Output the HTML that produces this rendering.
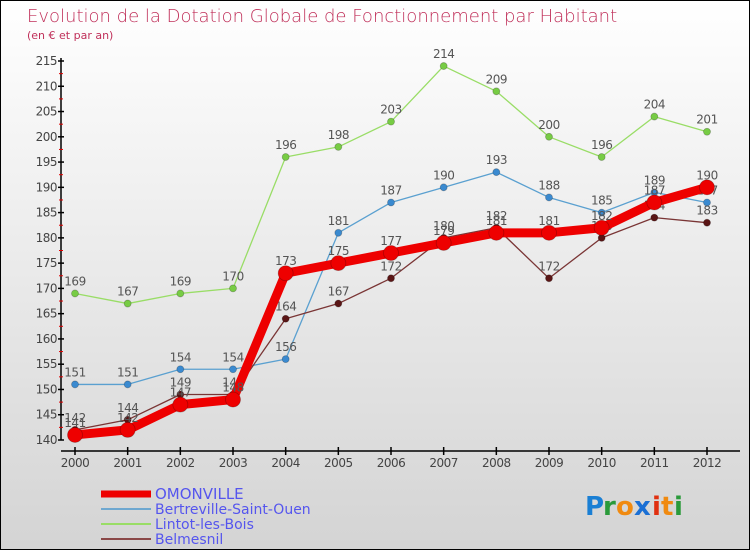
<!DOCTYPE html>
<html><head><meta charset="utf-8"><style>
html,body{margin:0;padding:0}
body{width:750px;height:550px;overflow:hidden;font-family:"DejaVu Sans","Liberation Sans",sans-serif}
#wrap{position:absolute;left:0;top:0;width:748px;height:548px;border:1px solid #000;background:linear-gradient(#ffffff,#d4d4d4)}
</style></head><body>
<div id="wrap">
<svg id="chart" width="750" height="550" style="position:absolute;left:-1px;top:-1px">
<text x="27" y="22" font-size="18" fill="#c0305a" font-family="DejaVu Sans, sans-serif" font-weight="200">Evolution de la Dotation Globale de Fonctionnement par Habitant</text>
<text x="27" y="39" font-size="11" fill="#c0305a">(en € et par an)</text>
<g id="axes"></g>
<g id="series"></g>
<g id="legend"></g>
<g font-size="26" font-family="DejaVu Sans, sans-serif" font-weight="bold">
<text x="585" y="515" fill="#1a7fd4">P</text><text x="603" y="515" fill="#2a9a3a">r</text><text x="616" y="515" fill="#f08a10">o</text><text x="634" y="515" fill="#1a6fd4">x</text><text x="652" y="515" fill="#e03010">i</text><text x="661" y="515" fill="#f08a10">t</text><text x="674" y="515" fill="#2a9a3a">i</text>
</g>
</svg>
</div>
<script>
const years=[2000,2001,2002,2003,2004,2005,2006,2007,2008,2009,2010,2011,2012];
const seriesNames=["OMONVILLE","Bertreville-Saint-Ouen","Lintot-les-Bois","Belmesnil"];
const omonville=[141,142,147,148,173,175,177,179,181,181,182,187,190];
const bertreville=[151,151,154,154,156,181,187,190,193,188,185,189,187];
const lintot=[169,167,169,170,196,198,203,214,209,200,196,204,201];
const belmesnil=[142,144,149,149,164,167,172,180,182,172,180,184,183];
const yTicks=[140,145,150,155,160,165,170,175,180,185,190,195,200,205,210,215];

const NS="http://www.w3.org/2000/svg";
const yMin=140,yMax=215,yBot=440,yTop=61;
const xFirst=75,xLast=707;
function X(i){return xFirst+(xLast-xFirst)*i/(years.length-1);}
function Y(v){return yBot-(v-yMin)*(yBot-yTop)/(yMax-yMin);}
function mk(tag,attrs,parent){const e=document.createElementNS(NS,tag);for(const k in attrs)e.setAttribute(k,attrs[k]);parent.appendChild(e);return e;}
const axes=document.getElementById('axes');
let yl=mk('line',{x1:61,y1:yTop-3,x2:61,y2:yBot,stroke:'#000','stroke-width':1.5},axes);


yTicks.forEach((v,k)=>{
  const y=Y(v);
  mk('line',{x1:58,y1:y,x2:64,y2:y,stroke:'#000','stroke-width':1.5},axes);
  if(k<yTicks.length-1) mk('line',{x1:59,y1:Y(v+2.5),x2:63,y2:Y(v+2.5),stroke:'#e00000','stroke-width':1},axes);
  const t=mk('text',{x:57,y:y+4,'font-size':12,'text-anchor':'end',fill:'#444','letter-spacing':'-0.5'},axes);
  t.textContent=v;
  
  
});
let xl=mk('line',{x1:61,y1:451,x2:740,y2:451,stroke:'#000','stroke-width':1.5},axes);


years.forEach((yr,i)=>{
  const x=X(i);
  mk('line',{x1:x,y1:447,x2:x,y2:455,stroke:'#000','stroke-width':1.5},axes);
  const t=mk('text',{x:x,y:467,'font-size':12,'text-anchor':'middle',fill:'#444','letter-spacing':'-0.5'},axes);
  t.textContent=yr;
  
  
});
const sg=document.getElementById('series');
const defs=[
 {name:'lintot',data:lintot,color:'#99dd66',dot:'#77cc44',w:1.3,r:3.5},
 {name:'bertreville',data:bertreville,color:'#5aa0d0',dot:'#3a8ad0',w:1.3,r:3.5},
 {name:'belmesnil',data:belmesnil,color:'#7a3535',dot:'#5a1515',w:1.3,r:3.5},
 {name:'omonville',data:omonville,color:'#ee0000',dot:'#ee0000',w:9,r:7.5}
];
defs.forEach(d=>{
  const g=mk('g',{},sg);
  
  
  const pts=d.data.map((v,i)=>X(i)+','+Y(v)).join(' ');
  const pl=mk('polyline',{points:pts,fill:'none',stroke:d.color,'stroke-width':d.w,'stroke-linejoin':'round'},g);
  
  
  d.data.forEach((v,i)=>{
    const c=mk('circle',{cx:X(i),cy:Y(v),r:d.r,fill:d.dot,stroke:'rgba(0,0,0,0.25)','stroke-width':0.8},g);
    
    
    const t=mk('text',{x:X(i),y:Y(v)-8,'font-size':12,'text-anchor':'middle',fill:'#555','letter-spacing':'-0.5'},g);
    t.textContent=v;
    
    
  });
});
const lg=document.getElementById('legend');
const lcol=['#ee0000','#6fa8d0','#99dd66','#8a4848'];
const lw=[7,2,2,2];
seriesNames.forEach((n,i)=>{
  const y=492+i*15;
  const ln=mk('line',{x1:101,y1:y+2,x2:151,y2:y+2,stroke:lcol[i],'stroke-width':lw[i]},lg);
  
  
  const t=mk('text',{x:155,y:y+7,'font-size':i==0?15:14,fill:'#5555ee'},lg);
  t.textContent=n;
  
  
});
</script>
</body></html>
